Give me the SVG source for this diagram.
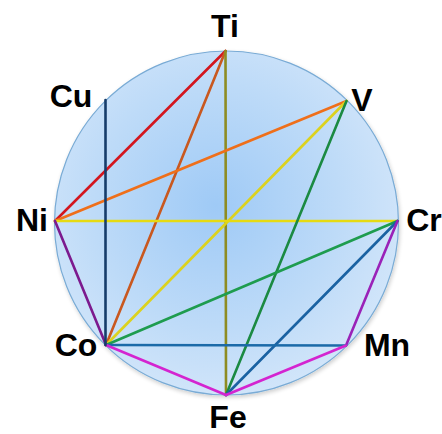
<svg xmlns="http://www.w3.org/2000/svg" width="442" height="434" viewBox="0 0 442 434">
<defs>
<radialGradient id="bg" cx="0.47" cy="0.45" r="0.6">
<stop offset="0" stop-color="#9fcaf6"/>
<stop offset="0.6" stop-color="#bedbf8"/>
<stop offset="1" stop-color="#d5e7fa"/>
</radialGradient>
<filter id="sh" x="-10%" y="-10%" width="120%" height="120%">
<feGaussianBlur in="SourceAlpha" stdDeviation="2"/>
<feOffset dx="1" dy="2"/>
<feComponentTransfer><feFuncA type="linear" slope="0.2"/></feComponentTransfer>
<feMerge><feMergeNode/><feMergeNode in="SourceGraphic"/></feMerge>
</filter>
</defs>
<style>
.lbl{font-family:"Liberation Sans",Arial,sans-serif;font-weight:bold;font-size:32px;fill:#000}
.e{stroke-width:2.6;fill:none;stroke-linecap:round}
</style>
<rect width="442" height="434" fill="#fff"/>
<circle id="wheel" cx="226.5" cy="223" r="172" fill="url(#bg)" stroke="#79abd5" stroke-width="1.2" filter="url(#sh)"/>
<g id="connectors">
<line class="e" x1="55" y1="221" x2="225.5" y2="51" stroke="#d3161e"/>
<line class="e" x1="106" y1="345" x2="225.5" y2="51" stroke="#c9581f"/>
<line class="e" x1="225.5" y1="51" x2="226" y2="395" stroke="#8e8c22"/>
<line class="e" x1="55" y1="221" x2="346.5" y2="101" stroke="#ef6f1a"/>
<line class="e" x1="106" y1="345" x2="346.5" y2="101" stroke="#dcd21e"/>
<line class="e" x1="55" y1="221" x2="397.5" y2="221" stroke="#e6da12"/>
<line class="e" x1="226" y1="395" x2="346.5" y2="101" stroke="#1b8a42"/>
<line class="e" x1="106" y1="345" x2="397.5" y2="221" stroke="#1e9c4e"/>
<line class="e" x1="226" y1="395" x2="397.5" y2="221" stroke="#1a62a2"/>
<line class="e" x1="397.5" y1="221" x2="346" y2="345.5" stroke="#9a22b8"/>
<line class="e" x1="55" y1="221" x2="106" y2="345" stroke="#7c1a8e"/>
<line class="e" x1="106" y1="345" x2="346" y2="345.5" stroke="#1b6aa8"/>
<line class="e" x1="106" y1="345" x2="226" y2="395" stroke="#d424d0"/>
<line class="e" x1="226" y1="395" x2="346" y2="345.5" stroke="#d424d0"/>
<line class="e" x1="105.5" y1="100" x2="105.5" y2="345" stroke="#163c6a"/>
</g>
<g id="n-Ti"><text class="lbl" x="225" y="37" text-anchor="middle">Ti</text></g>
<g id="n-Cu"><text class="lbl" x="71" y="107" text-anchor="middle">Cu</text></g>
<g id="n-V"><text class="lbl" x="362" y="111" text-anchor="middle">V</text></g>
<g id="n-Ni"><text class="lbl" x="32" y="231" text-anchor="middle">Ni</text></g>
<g id="n-Cr"><text class="lbl" x="424" y="231" text-anchor="middle">Cr</text></g>
<g id="n-Co"><text class="lbl" x="76" y="356" text-anchor="middle">Co</text></g>
<g id="n-Mn"><text class="lbl" x="387" y="356" text-anchor="middle">Mn</text></g>
<g id="n-Fe"><text class="lbl" x="228" y="428" text-anchor="middle">Fe</text></g>
</svg>
